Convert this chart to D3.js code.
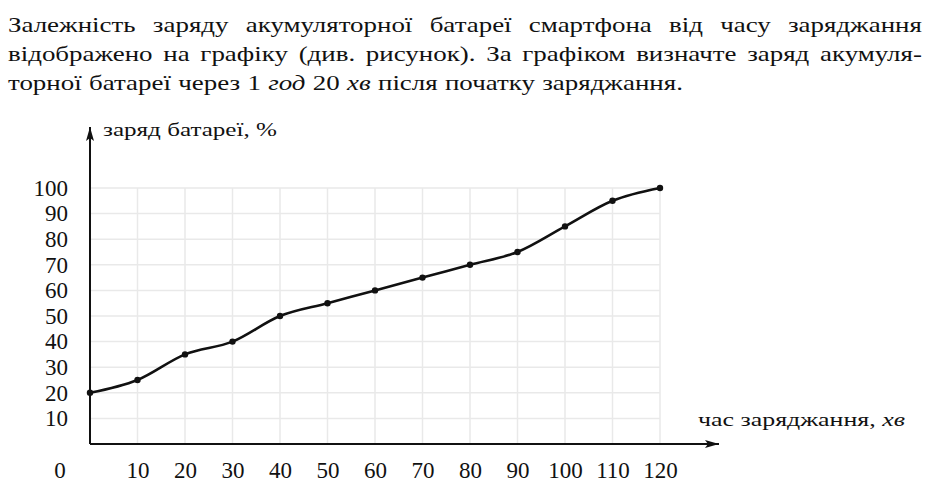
<!DOCTYPE html>
<html>
<head>
<meta charset="utf-8">
<script src="https://cdn.jsdelivr.net/npm/d3@7"></script>
<style>
  body { margin: 0; background: #fff; }
  svg text { font-family: "Liberation Serif", "DejaVu Serif", serif; fill: #111; }
</style>
</head>
<body>
<svg id="chart" width="940" height="493"></svg>
<script>
// question text, one entry per line
const textLines = [
  'Залежність заряду акумуляторної батареї смартфона від часу заряджання',
  'відображено на графіку (див. рисунок). За графіком визначте заряд акумуля-',
  'торної батареї через 1 |год| 20 |хв| після початку заряджання.'
];

// data
const minutes = [0, 10, 20, 30, 40, 50, 60, 70, 80, 90, 100, 110, 120];
const charge  = [20, 25, 35, 40, 50, 55, 60, 65, 70, 75, 85, 95, 100];

const xTicks = [10, 20, 30, 40, 50, 60, 70, 80, 90, 100, 110, 120];
const yTicks = [10, 20, 30, 40, 50, 60, 70, 80, 90, 100];

const yLabel = 'заряд батареї, %';
const xLabel = 'час заряджання, ';
const xUnit = 'хв';

const svg = d3.select('#chart');

// stretch a text horizontally so it spans w pixels from x0
function fitX(sel, x0, w) {
  let sx = w / sel.node().getComputedTextLength();
  sel.attr('transform', 'translate(' + x0 + ',0) scale(' + sx + ',1) translate(' + (-x0) + ',0)');
}

// ---- paragraph, justified word by word ----
const fontSize = 22;
const left = 8, right = 922, lastLineEnd = 683;
let paraGroups = textLines.map((line, i) => {
  let g = svg.append('g').attr('class', 'para');
  let words = line.split(' ');
  let nodes = words.map(w => g.append('text')
      .attr('y', 32 + i * 29)
      .style('font-size', fontSize + 'px')
      .style('font-style', w.startsWith('|') ? 'italic' : 'normal')
      .text(w.replace(/\|/g, '')));
  let widths = nodes.map(n => n.node().getComputedTextLength());
  return {g: g, nodes: nodes, widths: widths};
});
// horizontal scale so that the last (unjustified) line has the right length
let space = fontSize * 0.27;
let last = paraGroups[paraGroups.length - 1];
let lastW = d3.sum(last.widths) + space * (last.widths.length - 1);
let sx = (lastLineEnd - left) / lastW;
paraGroups.forEach((p, i) => {
  let gap = space;
  if (i < paraGroups.length - 1) {
    gap = ((right - left) / sx - d3.sum(p.widths)) / (p.widths.length - 1);
  }
  let x = 0;
  p.nodes.forEach((n, k) => {
    n.attr('x', x);
    x += p.widths[k] + gap;
  });
  p.g.attr('transform', 'translate(' + left + ',0) scale(' + sx + ',1)');
});

// ---- chart ----
const x = d3.scaleLinear().domain([0, 120]).range([90, 660]);
const y = d3.scaleLinear().domain([0, 100]).range([444, 188]);

// grid
svg.append('g').selectAll('line.v').data(xTicks).enter().append('line')
  .attr('x1', d => x(d)).attr('x2', d => x(d))
  .attr('y1', y(0)).attr('y2', y(100))
  .attr('stroke', '#e9e9e9').attr('stroke-width', 1.5);
svg.append('g').selectAll('line.h').data(yTicks).enter().append('line')
  .attr('x1', x(0)).attr('x2', x(120))
  .attr('y1', d => y(d)).attr('y2', d => y(d))
  .attr('stroke', '#e9e9e9').attr('stroke-width', 1.5);

// arrow markers
let defs = svg.append('defs');
defs.append('marker')
  .attr('id', 'arrow')
  .attr('viewBox', '0 0 14 8')
  .attr('refX', 14).attr('refY', 4)
  .attr('markerWidth', 14).attr('markerHeight', 8)
  .attr('markerUnits', 'userSpaceOnUse')
  .attr('orient', 'auto')
  .append('path')
  .attr('d', 'M0,0 L14,4 L0,8 L3,4 Z')
  .attr('fill', '#111');

// axes lines
svg.append('line')
  .attr('x1', x(0)).attr('x2', x(0))
  .attr('y1', y(0)).attr('y2', 127)
  .attr('stroke', '#111').attr('stroke-width', 2)
  .attr('marker-end', 'url(#arrow)');
svg.append('line')
  .attr('x1', x(0)).attr('x2', 719)
  .attr('y1', y(0)).attr('y2', y(0))
  .attr('stroke', '#111').attr('stroke-width', 2)
  .attr('marker-end', 'url(#arrow)');

// tick labels
let yAxis = d3.axisLeft(y).tickValues(yTicks).tickSize(0).tickPadding(22);
let yg = svg.append('g').attr('transform', 'translate(' + x(0) + ',0)').call(yAxis);
yg.select('.domain').remove();
yg.selectAll('text').style('font-size', '23px').attr('font-family', null).attr('fill', '#111');

let xAxis = d3.axisBottom(x).tickValues(xTicks).tickSize(0).tickPadding(18);
let xg = svg.append('g').attr('transform', 'translate(0,' + y(0) + ')').call(xAxis);
xg.select('.domain').remove();
xg.selectAll('text').style('font-size', '23px').attr('font-family', null).attr('fill', '#111');

svg.append('text')
  .attr('x', 60).attr('y', 478)
  .attr('text-anchor', 'middle')
  .style('font-size', '23px')
  .text('0');

// axis titles
let yt = svg.append('text')
  .attr('x', 103).attr('y', 136)
  .style('font-size', '19px')
  .text(yLabel);
fitX(yt, 103, 174);

let xt = svg.append('text')
  .attr('x', 698).attr('y', 426)
  .style('font-size', '18px')
  .text(xLabel);
xt.append('tspan').style('font-style', 'italic').text(xUnit);
fitX(xt, 698, 207);

// curve
let pts = minutes.map((m, i) => [m, charge[i]]);
let line = d3.line()
  .x(d => x(d[0]))
  .y(d => y(d[1]))
  .curve(d3.curveMonotoneX);

svg.append('path')
  .datum(pts)
  .attr('d', line)
  .attr('fill', 'none')
  .attr('stroke', '#111')
  .attr('stroke-width', 2.6);

svg.append('g').selectAll('circle').data(pts).enter().append('circle')
  .attr('cx', d => x(d[0]))
  .attr('cy', d => y(d[1]))
  .attr('r', 3.2)
  .attr('fill', '#111');
</script>
</body>
</html>
